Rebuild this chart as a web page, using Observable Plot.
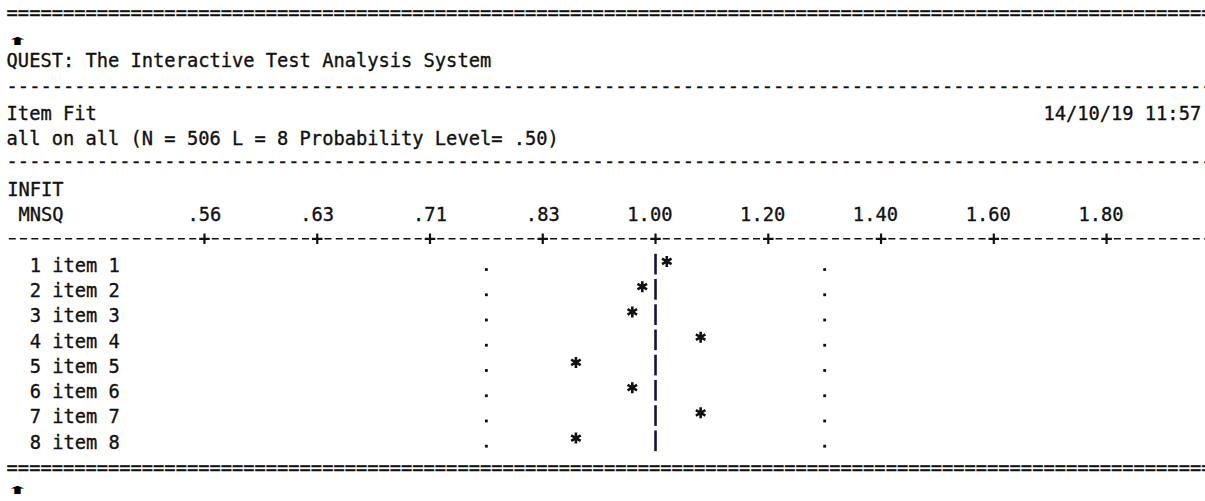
<!DOCTYPE html>
<html>
<head>
<meta charset="utf-8">
<script src="https://cdn.jsdelivr.net/npm/d3@7"></script>
<script src="https://cdn.jsdelivr.net/npm/@observablehq/plot@0.6"></script>
<style>
  html, body { margin:0; padding:0; background:#fff; }
  body { width:1205px; height:501px; overflow:hidden; }
  #page { position:relative; width:1205px; height:501px; overflow:hidden;
          font-family:"DejaVu Sans Mono", monospace; font-size:18.73px; color:#111; }
  .ln { position:absolute; left:6.6px; white-space:pre; line-height:25.24px; height:25.24px;
        font-kerning:none; font-variant-ligatures:none; -webkit-text-stroke:0.35px #111; }
  .arrow { position:absolute; left:7px; font-family:"DejaVu Sans", sans-serif; font-size:24px; line-height:1;
           color:#000; transform:scale(1.15, 0.45); transform-origin:50% 50%; }
  #chart { position:absolute; left:0; display:block; }
</style>
</head>
<body>
<div id="page"></div>
<script>
// ---------- data ----------
const headerTitle = "QUEST: The Interactive Test Analysis System";
const reportName = "Item Fit";
const reportStamp = "14/10/19 11:57";
const reportSubtitle = "all on all (N = 506 L = 8 Probability Level= .50)";
const axisTitle = ["INFIT", "MNSQ"];
const tickValues = [0.56, 0.63, 0.71, 0.83, 1.00, 1.20, 1.40, 1.60, 1.80];
const tickLabels = [".56", ".63", ".71", ".83", "1.00", "1.20", "1.40", "1.60", "1.80"];
const itemNumbers = [1, 2, 3, 4, 5, 6, 7, 8];
const itemNames = ["item 1", "item 2", "item 3", "item 4", "item 5", "item 6", "item 7", "item 8"];
const infitMnsq = [1.02, 0.98, 0.965, 1.08, 0.88, 0.965, 1.08, 0.88];
const expectedMnsq = [1.00];
const acceptRange = [0.77, 1.30];
const markArrow = "\u2B06";

// ---------- text grid ----------
const FS = 18.73;          // font size (px)
const CW = 11.277;         // monospace advance
const X0 = 6.6;            // left edge of column 0
const PITCH = 25.24;       // line pitch
const COLS = 107;
const colX = c => X0 + (c + 0.5) * CW;
const INK = "#111";

const page = document.getElementById("page");
function addLine(text, top, cls = "ln") {
  const d = document.createElement("div");
  d.className = cls;
  d.textContent = text;
  d.style.top = top + "px";
  page.appendChild(d);
  return d;
}
const eqLine = "=".repeat(COLS);
const dashLine = "-".repeat(COLS);

addLine(eqLine, 0.3);
addLine(markArrow, 28.5, "arrow");
addLine(headerTitle, 48.2);
addLine(dashLine, 73.6);
addLine(reportName.padEnd(92) + reportStamp, 101.4);
addLine(reportSubtitle, 125.8);
addLine(dashLine, 149.2);

// ---------- chart ----------
// QUEST's MNSQ axis: tick values sit at equal spacing, so map values piecewise onto tick index
const mnsqToIndex = d3.scaleLinear().domain(tickValues).range(tickValues.map((_, i) => i));
const rows = itemNumbers.map((n, i) => ({line: n, label: `${n} ${itemNames[i]}`, mnsq: infitMnsq[i]}));
const bounds = rows.flatMap(r => acceptRange.map(v => ({line: r.line, v})));
const textStyle = {fontFamily: "DejaVu Sans Mono", fontSize: FS, fill: INK, stroke: INK, strokeWidth: 0.35,
  textAnchor: "start", frameAnchor: "left"};

const chart = Plot.plot({
  width: 1205,
  height: 11 * PITCH,
  marginLeft: X0, marginRight: 0, marginTop: 0, marginBottom: 0,
  style: {background: "none", overflow: "visible", color: INK},
  x: {transform: mnsqToIndex, domain: [0, tickValues.length - 1], range: [colX(17), colX(97)], axis: null},
  y: {domain: [-2.5, 8.5], reverse: true, axis: null},
  marks: [
    Plot.text([axisTitle[0]], {...textStyle, y: () => -2, text: d => d, dx: 0}),
    Plot.text([axisTitle[1]], {...textStyle, y: () => -1, text: d => d, dx: CW}),
    Plot.text(tickValues, {x: d => d, y: () => -1, text: (d, i) => tickLabels[i],
      fontFamily: "DejaVu Sans Mono", fontSize: FS, fill: INK, stroke: INK, strokeWidth: 0.35,
      textAnchor: "end", dx: 1.5 * CW}),
    Plot.ruleY([0], {stroke: INK, strokeWidth: 1.6, strokeDasharray: `7,${CW - 7}`,
      strokeDashoffset: CW - 2.14, dy: -1.8}),
    Plot.dot(tickValues, {x: d => d, y: () => 0, symbol: "plus", r: 3.5, stroke: INK,
      fill: "none", strokeWidth: 2.2, dy: -1.8}),
    Plot.text(rows, {...textStyle, y: "line", text: "label", dx: 2 * CW}),
    Plot.dot(bounds, {x: "v", y: "line", symbol: "square", r: 1.6, fill: INK, stroke: "none", dy: 3.7}),
    Plot.ruleX(rows, {x: () => expectedMnsq[0], y1: d => d.line - 0.41, y2: d => d.line + 0.41,
      stroke: "#14143a", strokeWidth: 2.6, dy: -1.2}),
    Plot.dot(rows, {x: "mnsq", y: "line", symbol: "asterisk", r: 5.2, stroke: INK, fill: "none",
      strokeWidth: 2.6, dy: -4.4})
  ]
});
chart.id = "chart";
chart.style.top = "177px";
page.appendChild(chart);

addLine(eqLine, 454.6);
addLine(markArrow, 477.5, "arrow");
</script>
</body>
</html>
